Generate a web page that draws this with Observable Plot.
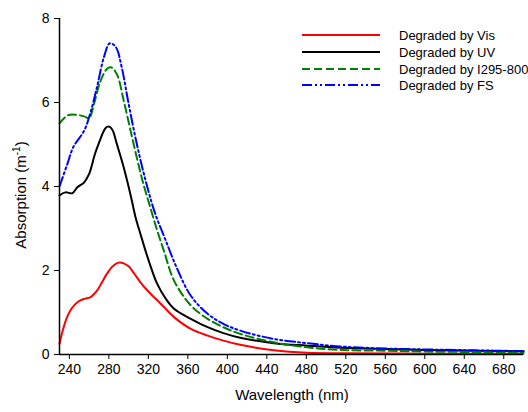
<!DOCTYPE html>
<html>
<head>
<meta charset="utf-8">
<script src="https://cdn.jsdelivr.net/npm/d3@7"></script>
<script src="https://cdn.jsdelivr.net/npm/@observablehq/plot@0.6"></script>
<style>
  html, body { margin: 0; padding: 0; background: #fff; }
  #chart svg { display: block; }
</style>
</head>
<body>
<div id="chart"></div>
<script>
// Series data (wavelength nm, absorption m^-1)
const visWl  = [230,233,237,241,246,251,256,261,268,273,278,283,287,291,295,300,305,312,320,329,337,346,363,380,396,413,447,481,515,600,700];
const visAbs = [0.25,0.55,0.85,1.05,1.2,1.29,1.33,1.36,1.52,1.72,1.92,2.08,2.16,2.19,2.17,2.1,1.95,1.72,1.5,1.29,1.1,0.89,0.61,0.45,0.33,0.23,0.10,0.04,0.03,0.02,0.02];

const uvWl  = [230,236,243,248,255,260,266,271,275,278,281,284,288,295,302,307,312,317,323,329,337,346,363,380,396,413,447,481,515,560,600,650,700];
const uvAbs = [3.79,3.86,3.84,3.98,4.1,4.3,4.78,5.1,5.33,5.42,5.42,5.33,5.02,4.46,3.8,3.27,2.87,2.48,2.05,1.68,1.35,1.09,0.85,0.65,0.51,0.40,0.27,0.21,0.16,0.13,0.11,0.09,0.08];

const iWl  = [230,238,246,255,260,265,271,278,282,288,295,302,309,315,322,329,336,346,363,380,396,413,447,481,515,560,600,650,700];
const iAbs = [5.5,5.69,5.71,5.67,5.63,5.97,6.48,6.8,6.84,6.68,6.05,5.33,4.62,4.06,3.5,2.95,2.45,1.76,1.17,0.85,0.65,0.49,0.29,0.17,0.11,0.09,0.07,0.06,0.05];

const fsWl  = [230,238,244,255,261,268,275,281,287,293,300,309,319,327,337,349,363,380,396,413,447,481,515,550,600,650,700];
const fsAbs = [4.0,4.54,4.94,5.33,5.73,6.37,7.08,7.41,7.32,6.84,5.97,4.94,3.98,3.35,2.75,2.05,1.4,0.97,0.73,0.57,0.37,0.27,0.19,0.15,0.12,0.1,0.08];

const seriesNames  = ["Degraded by Vis", "Degraded by UV", "Degraded by I295-800", "Degraded by FS"];
const seriesColors = ["#ff0000", "#000000", "#008000", "#0000ff"];
const seriesDash   = [null, null, "8,4", "10,3,2,3,2,3"];

const xTicks = [240,280,320,360,400,440,480,520,560,600,640,680];
const yTicks = [0,2,4,6,8];

const toRows = (wl, ab) => wl.map((w, i) => ({w, a: ab[i]}));
const sets = [toRows(visWl, visAbs), toRows(uvWl, uvAbs), toRows(iWl, iAbs), toRows(fsWl, fsAbs)];

const W = 528, H = 412;
const mL = 59, mR = 5, mT = 18, mB = 58;

const plot = Plot.plot({
  width: W, height: H,
  marginLeft: mL, marginRight: mR, marginTop: mT, marginBottom: mB,
  style: {fontFamily: "Liberation Sans, Arial, sans-serif", fontSize: "14px", color: "#000", background: "#fff", overflow: "hidden"},
  x: {domain: [230, 700]},
  y: {domain: [0, 8]},
  marks: [
    ...sets.map((d, i) => Plot.line(d, {
      x: "w", y: "a", stroke: seriesColors[i], strokeWidth: 2,
      strokeDasharray: seriesDash[i] || undefined, curve: "catmull-rom"
    })),
    Plot.axisX({ticks: xTicks, tickSize: 5, tickPadding: 5, label: null, fontSize: 14}),
    Plot.axisY({ticks: yTicks, tickSize: 5, tickPadding: 5, label: null, fontSize: 14}),
    Plot.ruleY([0], {stroke: "#000", strokeWidth: 1.5}),
    Plot.ruleX([230], {stroke: "#000", strokeWidth: 1.5})
  ]
});

document.getElementById("chart").appendChild(plot);

const svg = d3.select(plot);
const g = svg.append("g").attr("font-family", "Liberation Sans, Arial, sans-serif").attr("fill", "#000");

// Axis titles
g.append("text")
  .attr("x", 292).attr("y", 400)
  .attr("text-anchor", "middle").attr("font-size", 15)
  .text("Wavelength (nm)");

const yt = g.append("text")
  .attr("transform", "translate(26,195) rotate(-90)")
  .attr("text-anchor", "middle").attr("font-size", 15);
yt.append("tspan").text("Absorption (m");
yt.append("tspan").attr("font-size", 10).attr("dy", -6).text("-1");
yt.append("tspan").attr("dy", 6).text(")");

// Legend
const legY = [35, 52, 69, 85];
seriesNames.forEach((name, i) => {
  g.append("line")
    .attr("x1", 302).attr("x2", 380).attr("y1", legY[i]).attr("y2", legY[i])
    .attr("stroke", seriesColors[i]).attr("stroke-width", 2)
    .attr("stroke-dasharray", seriesDash[i]);
  g.append("text")
    .attr("x", 399).attr("y", legY[i]).attr("dy", "0.35em")
    .attr("text-anchor", "start")
    .attr("font-size", 13)
    .text(name);
});
</script>
</body>
</html>
